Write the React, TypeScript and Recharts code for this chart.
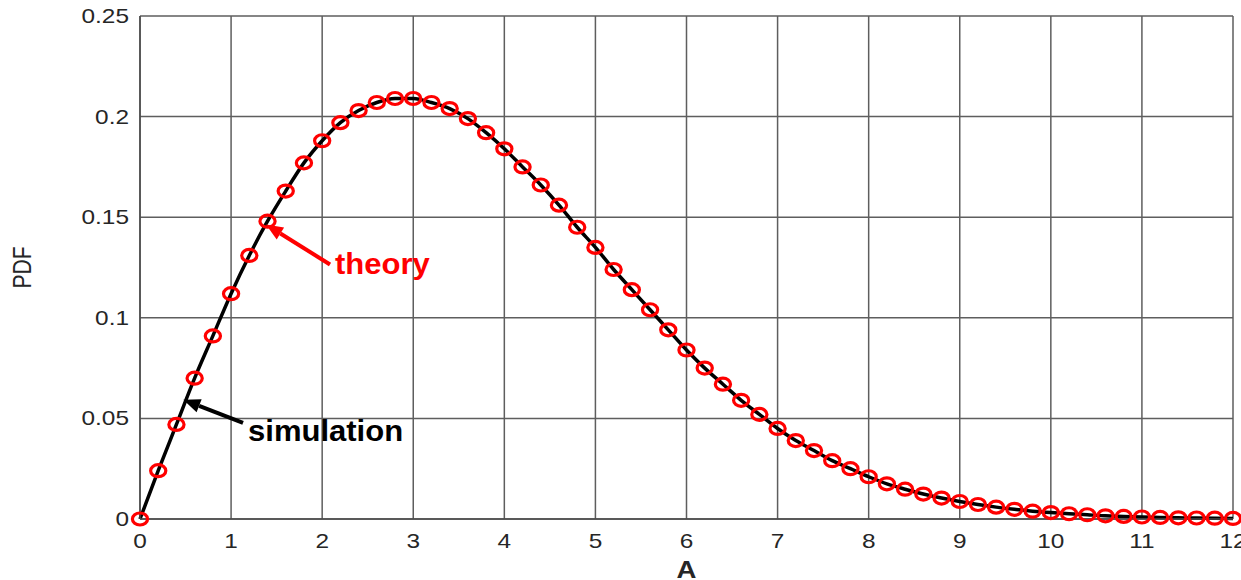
import React from 'react';
import { LineChart, Line, XAxis, YAxis, CartesianGrid, ReferenceLine } from 'recharts';

// amplitude samples (A axis)
const amplitudes = [
    0, 0.2, 0.4, 0.6, 0.8, 1, 1.2, 1.4, 1.6, 1.8,
    2, 2.2, 2.4, 2.6, 2.8, 3, 3.2, 3.4, 3.6, 3.8,
    4, 4.2, 4.4, 4.6, 4.8, 5, 5.2, 5.4, 5.6, 5.8,
    6, 6.2, 6.4, 6.6, 6.8, 7, 7.2, 7.4, 7.6, 7.8,
    8, 8.2, 8.4, 8.6, 8.8, 9, 9.2, 9.4, 9.6, 9.8,
    10, 10.2, 10.4, 10.6, 10.8, 11, 11.2, 11.4, 11.6, 11.8, 12,
];

// red circle markers
const theoryPdf = [
    0, 0.024, 0.047, 0.070, 0.091, 0.112, 0.131, 0.148, 0.163, 0.177,
    0.188, 0.197, 0.203, 0.207, 0.209, 0.209, 0.207, 0.204, 0.199, 0.192,
    0.184, 0.175, 0.166, 0.156, 0.145, 0.135, 0.124, 0.114, 0.104, 0.094,
    0.084, 0.075, 0.067, 0.059, 0.052, 0.045, 0.039, 0.034, 0.029, 0.025,
    0.021, 0.0175, 0.0148, 0.0124, 0.0104, 0.0087, 0.0072, 0.0059, 0.0048, 0.0039,
    0.0032, 0.0026, 0.0021, 0.0016, 0.0013, 0.0010, 0.0008, 0.0006, 0.0005, 0.0004, 0.0003,
];

// black solid curve
const simulationPdf = [
    0, 0.024, 0.047, 0.070, 0.091, 0.112, 0.131, 0.148, 0.163, 0.177,
    0.188, 0.197, 0.203, 0.207, 0.209, 0.209, 0.207, 0.204, 0.199, 0.192,
    0.184, 0.175, 0.166, 0.156, 0.145, 0.135, 0.124, 0.114, 0.104, 0.094,
    0.084, 0.075, 0.067, 0.059, 0.052, 0.045, 0.039, 0.034, 0.029, 0.025,
    0.021, 0.0175, 0.0148, 0.0124, 0.0104, 0.0087, 0.0072, 0.0059, 0.0048, 0.0039,
    0.0032, 0.0026, 0.0021, 0.0016, 0.0013, 0.0010, 0.0008, 0.0006, 0.0005, 0.0004, 0.0003,
];

const xTicks = [0, 1, 2, 3, 4, 5, 6, 7, 8, 9, 10, 11, 12];
const yTicks = [0, 0.05, 0.1, 0.15, 0.2, 0.25];

const data = amplitudes.map((a, i) => ({ a, theory: theoryPdf[i], simulation: simulationPdf[i] }));

const FONT = '"Liberation Sans", Arial, Helvetica, sans-serif';

const XTick = (props: any) => (
    <text
        transform={`translate(${props.x},${props.y + 21}) scale(1.22,1)`}
        textAnchor="middle"
        fontSize={20}
        fontFamily={FONT}
        fill="#262626"
    >
        {props.payload.value}
    </text>
);

const YTick = (props: any) => (
    <text
        transform={`translate(${props.x - 3},${props.y + 7}) scale(1.22,1)`}
        textAnchor="end"
        fontSize={20}
        fontFamily={FONT}
        fill="#262626"
    >
        {props.payload.value}
    </text>
);

const RedCircle = (props: any) => {
    const { cx, cy, index } = props;
    if (cx == null || cy == null) return <g key={`d${index}`} />;
    return (
        <ellipse key={`d${index}`} cx={cx} cy={cy} rx={7.6} ry={6}
            fill="none" stroke="#ff0000" strokeWidth={3.2} />
    );
};

// arrow with a text label at its tail
const makeArrow = (color: string, label: string, dx: number, dy: number) => (props: any) => {
    const { x1, y1, x2, y2 } = props;
    const len = Math.hypot(x2 - x1, y2 - y1);
    const ux = (x2 - x1) / len;
    const uy = (y2 - y1) / len;
    const head = 17;
    const half = 7;
    const bx = x2 - ux * head;
    const by = y2 - uy * head;
    return (
        <g>
            <line x1={x1} y1={y1} x2={bx} y2={by} stroke={color} strokeWidth={4} />
            <polygon
                points={`${x2},${y2} ${bx - uy * half},${by + ux * half} ${bx + uy * half},${by - ux * half}`}
                fill={color}
            />
            <text
                transform={`translate(${x1 + dx},${y1 + dy}) scale(1.07,1)`}
                fontSize={29}
                fontWeight="bold"
                fontFamily={FONT}
                fill={color}
            >
                {label}
            </text>
        </g>
    );
};

export default function App() {
    return (
        <div style={{ position: 'absolute', left: 0, top: 0, width: 1241, height: 580, background: '#fff' }}>
            <LineChart width={1241} height={580} data={data} margin={{ top: 16, right: 8, left: 0, bottom: 0 }}>
                <CartesianGrid stroke="#5e5e5e" strokeWidth={1.5} />
                <XAxis
                    dataKey="a"
                    type="number"
                    domain={[0, 12]}
                    ticks={xTicks}
                    height={61}
                    axisLine={{ stroke: '#4a4a4a', strokeWidth: 1.5 }}
                    tickLine={false}
                    tick={<XTick />}
                    label={({ viewBox }: any) => (
                        <text
                            transform={`translate(${viewBox.x + viewBox.width / 2},${viewBox.y + 59}) scale(1.15,1)`}
                            textAnchor="middle"
                            fontSize={24}
                            fontWeight="bold"
                            fontFamily={FONT}
                            fill="#262626"
                        >
                            A
                        </text>
                    )}
                />
                <YAxis
                    type="number"
                    domain={[0, 0.25]}
                    ticks={yTicks}
                    width={140}
                    axisLine={{ stroke: '#4a4a4a', strokeWidth: 1.5 }}
                    tickLine={false}
                    tick={<YTick />}
                    label={({ viewBox }: any) => (
                        <text
                            transform={`translate(${viewBox.x + 31},${viewBox.y + viewBox.height / 2}) scale(1.25,1) rotate(-90)`}
                            textAnchor="middle"
                            fontSize={21}
                            fontFamily={FONT}
                            fill="#262626"
                        >
                            PDF
                        </text>
                    )}
                />
                <Line
                    dataKey="theory"
                    stroke="none"
                    dot={RedCircle}
                    activeDot={false}
                    isAnimationActive={false}
                />
                <Line
                    dataKey="simulation"
                    type="monotone"
                    stroke="#000"
                    strokeWidth={3.5}
                    dot={false}
                    activeDot={false}
                    isAnimationActive={false}
                />
                <ReferenceLine
                    segment={[{ x: 2.086, y: 0.1265 }, { x: 1.383, y: 0.1464 }]}
                    shape={makeArrow('#ff0000', 'theory', 5, 10)}
                />
                <ReferenceLine
                    segment={[{ x: 1.131, y: 0.0478 }, { x: 0.475, y: 0.0593 }]}
                    shape={makeArrow('#000000', 'simulation', 5, 18)}
                />
            </LineChart>
        </div>
    );
}
